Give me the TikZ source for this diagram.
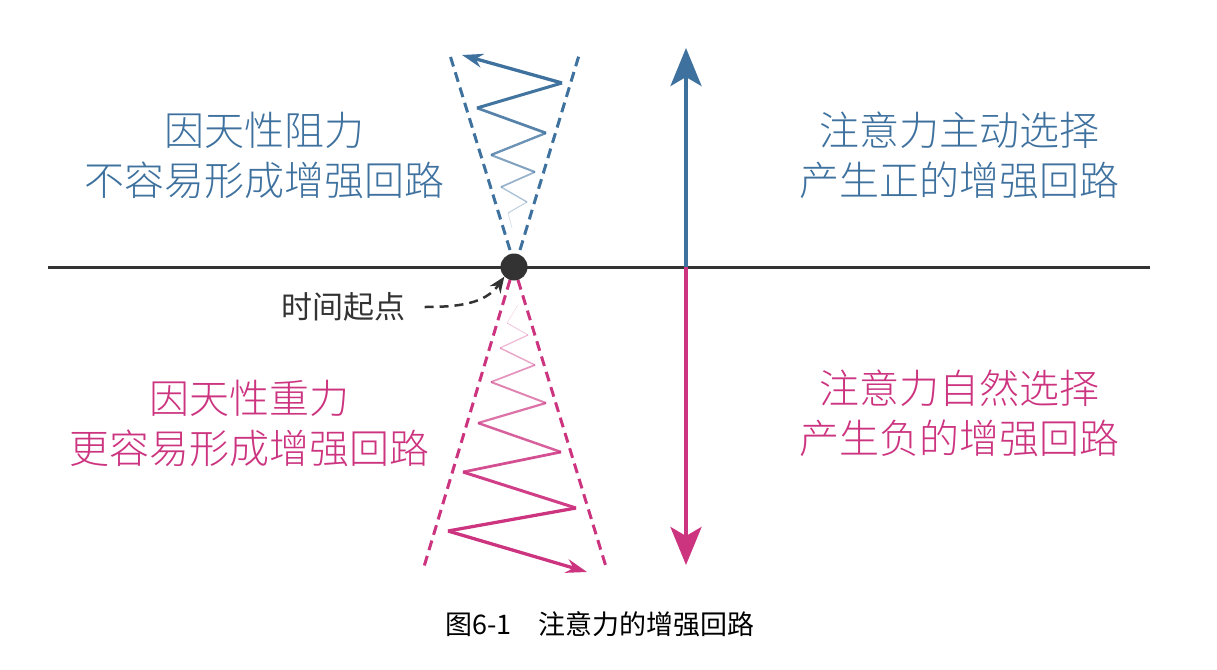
\documentclass[tikz,border=0pt]{standalone}
\usepackage{fontspec}
\setmainfont{Noto Sans CJK SC Light}
\newfontfamily\captionfont{Noto Sans CJK SC}
\usetikzlibrary{arrows.meta}

\definecolor{loopblue}{RGB}{62,113,158}
\definecolor{looppink}{RGB}{204,52,128}
\definecolor{axisgray}{RGB}{51,51,51}

\tikzset{
  label text/.style={align=center, font=\fontsize{40}{50}\selectfont},
  cone edge/.style={dashed, line width=3pt, dash pattern=on 10pt off 6pt},
  big tip/.style={-{Stealth[length=38pt,width=31pt,inset=9pt]}, line width=4pt},
}

\begin{document}
\begin{tikzpicture}[x=1pt, y=-1pt]
\useasboundingbox (0,0) rectangle (1217,669);
% time axis
\path (48,267) coordinate (left end) (1150,267) coordinate (right end);
\draw [axisgray, line width=3pt] (left end) -- (right end);
\node [circle, fill=axisgray, inner sep=0pt, minimum size=27pt] (origin) at (514,267) {};

% the two outcomes
\path (686,267) coordinate (split) (686,48) coordinate (up tip) (686,565) coordinate (down tip);
\draw [big tip, loopblue] (split) -- (up tip);
\draw [big tip, looppink] (split) -- (down tip);

% cones
\draw [cone edge, loopblue] (510,250) -- (449,52);
\draw [cone edge, loopblue] (520,250) -- (580,52);
\draw [cone edge, looppink] (510,280) -- (423,570);
\draw [cone edge, looppink] (518,280) -- (607,570);

% blue zigzag, fading towards the start
\foreach \pt [count=\i] in {(512,228),(508,213),(527,202),(501,187),(535,172),
                            (491,155),(546,133),(477,108),(562,83),(462,55)}
  \path \pt coordinate (b\i);
\foreach \i [evaluate=\i as \j using int(\i+1)] in {1,...,8}
  \draw [loopblue, opacity={0.1+\i*0.11}, line width={0.4pt+\i*0.33pt}] (b\i) -- (b\j);
\draw [loopblue, line width=3.3pt, -{Stealth[length=21pt,width=14pt]}] (b9) -- (b10);

% pink zigzag, fading towards the start
\foreach \pt [count=\i] in {(518,305),(507,323),(528,335),(500,348),(535,365),(491,382),
                            (546,403),(478,423),(561,452),(463,472),(576,508),(448,531),(587,572)}
  \path \pt coordinate (p\i);
\foreach \i [evaluate=\i as \j using int(\i+1)] in {1,...,11}
  \draw [looppink, opacity={0.1+\i*0.085}, line width={0.4pt+\i*0.26pt}] (p\i) -- (p\j);
\draw [looppink, line width=3.3pt, -{Stealth[length=21pt,width=14pt]}] (p12) -- (p13);

% labels
\node [label text, loopblue] (blue left) at (264,155) {因天性阻力\\不容易形成增强回路};
\node [label text, loopblue] (blue right) at (959,155) {注意力主动选择\\产生正的增强回路};
\node [label text, looppink] (pink left) at (249,423) {因天性重力\\更容易形成增强回路};
\node [label text, looppink] (pink right) at (959,413) {注意力自然选择\\产生负的增强回路};

\node [axisgray, font=\captionfont\fontsize{31}{31}\selectfont] (start) at (343,307) {时间起点};
\draw [axisgray, line width=2.5pt, dash pattern=on 9pt off 6pt, -{Stealth[length=16pt,width=13pt]}]
  ([xshift=16pt]start.east) to[out=0, in=235] (origin.south west);

\node [black, font=\captionfont\fontsize{27}{27}\selectfont] (caption) at (600,624) {图6-1\quad 注意力的增强回路};
\end{tikzpicture}
\end{document}
